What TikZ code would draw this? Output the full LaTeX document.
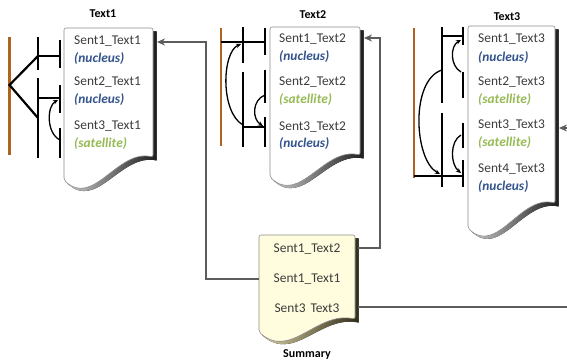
\documentclass[tikz,border=0pt]{standalone}
\usepackage{fontspec}
\setmainfont{Carlito}
\usetikzlibrary{arrows.meta}

\definecolor{bark}{RGB}{176,98,32}
\definecolor{nucblue}{RGB}{52,84,140}
\definecolor{satgreen}{RGB}{150,186,84}
\definecolor{bodygray}{RGB}{60,60,60}
\definecolor{conngray}{RGB}{92,92,92}
\definecolor{cream}{RGB}{255,253,222}
\definecolor{khakidark}{RGB}{50,46,26}
\definecolor{khakilight}{RGB}{214,204,160}
\colorlet{shadedark}{black!88}
\colorlet{shadelight}{black!22}

\tikzset{
  treeline/.style={line width=2.2pt, black},
  rootline/.style={line width=2.2pt, bark},
  relarrow/.style={line width=1.3pt, black, -{Stealth[length=5pt,width=4.5pt]}},
  conn/.style={line width=2pt, conngray, -{Stealth[length=8pt,width=7pt]}},
  connplain/.style={line width=2pt, conngray},
  sent/.style={anchor=mid west, inner sep=0pt, text=bodygray, font=\fontsize{13.4}{16}\selectfont},
  nuc/.style={anchor=mid west, inner sep=0pt, text=nucblue, font=\fontsize{13.4}{16}\selectfont\bfseries\itshape},
  sat/.style={anchor=mid west, inner sep=0pt, text=satgreen, font=\fontsize{13.4}{16}\selectfont\bfseries\itshape},
  sumtext/.style={inner sep=0pt, text=bodygray, font=\fontsize{13.4}{16}\selectfont},
  title/.style={inner sep=0pt, font=\fontsize{12}{14}\selectfont\bfseries},
}

% A page with a wavy bottom edge and a drop shadow:
% #1 left, #2 top, #3 right, #4 bottom at left, #5 bottom at right,
% #6 fill, #7 light shadow colour, #8 dark shadow colour
\newcommand\docpage[8]{%
  \fill[shift={(3.5,3.5)}, left color=#7, right color=#8]
    (#1,#2) -- (#3,#2) -- (#3,#5)
    .. controls ({#3-0.4*(#3-#1)},{#5-8}) and ({#1+0.33*(#3-#1)},{#4+28}) .. (#1,#4) -- cycle;
  \draw[draw=black!45, line width=0.6pt, fill=#6, rounded corners=2pt]
    (#1,#2) -- (#3,#2) -- (#3,#5)
    .. controls ({#3-0.4*(#3-#1)},{#5-8}) and ({#1+0.33*(#3-#1)},{#4+28}) .. (#1,#4) -- cycle;
}

\begin{document}
\begin{tikzpicture}[x=1pt, y=-1pt]
\useasboundingbox (0,0) rectangle (567,363);

% ---- pages ----
\docpage{64}{28}{153}{180}{157}{white}{shadelight}{shadedark}
\docpage{270}{27}{360}{177}{155}{white}{shadelight}{shadedark}
\docpage{468}{26}{555}{228}{203}{white}{shadelight}{shadedark}
\docpage{259}{235}{355}{332}{319}{cream}{khakilight}{khakidark}

% ---- titles ----
\node[title] (title1) at (103,14) {Text1};
\node[title] (title2) at (313,15) {Text2};
\node[title] (title3) at (507,17) {Text3};
\node[title] (titlesum) at (307,355) {Summary};

% ---- sentences of Text1 ----
\node[sent] (a1) at (74,42)  {Sent1\_Text1};
\node[nuc]  (a1r) at (74,60) {(nucleus)};
\node[sent] (a2) at (74,83)  {Sent2\_Text1};
\node[nuc]  (a2r) at (74,101) {(nucleus)};
\node[sent] (a3) at (74,127) {Sent3\_Text1};
\node[sat]  (a3r) at (74,145) {(satellite)};

% ---- sentences of Text2 ----
\node[sent] (b1) at (279,40)  {Sent1\_Text2};
\node[nuc]  (b1r) at (279,58) {(nucleus)};
\node[sent] (b2) at (279,83)  {Sent2\_Text2};
\node[sat]  (b2r) at (279,101) {(satellite)};
\node[sent] (b3) at (279,128) {Sent3\_Text2};
\node[nuc]  (b3r) at (279,145) {(nucleus)};

% ---- sentences of Text3 ----
\node[sent] (c1) at (478,40)  {Sent1\_Text3};
\node[nuc]  (c1r) at (478,59) {(nucleus)};
\node[sent] (c2) at (478,83)  {Sent2\_Text3};
\node[sat]  (c2r) at (478,101) {(satellite)};
\node[sent] (c3) at (478,126) {Sent3\_Text3};
\node[sat]  (c3r) at (478,144) {(satellite)};
\node[sent] (c4) at (478,170) {Sent4\_Text3};
\node[nuc]  (c4r) at (478,188) {(nucleus)};

% ---- summary ----
\node[sumtext] (s1) at (307,249) {Sent1\_Text2};
\node[sumtext] (s2) at (307,279) {Sent1\_Text1};
\node[sumtext] (s3) at (307,308) {Sent3\hspace{5pt}Text3};

% ---- discourse tree of Text1 ----
\draw[rootline] (9.5,37) -- (9.5,155);
\draw[treeline] (38,37) -- (38,70) (38,78) -- (38,158);
\draw[treeline] (60,40) -- (60,68) (60,85) -- (60,113) (60,128) -- (60,158);
\draw[treeline] (38,56) -- (60,56) (38,98) -- (60,98);
\draw[treeline] (38,56) -- (9.5,85) -- (38,118);
\draw[relarrow] (60,140) .. controls (46,133) and (47,106) .. (58,100);

% ---- discourse tree of Text2 ----
\draw[rootline] (221,28) -- (221,146);
\draw[treeline] (243,27) -- (243,63) (243,72) -- (243,147);
\draw[treeline] (265,28) -- (265,55) (265,70) -- (265,103) (265,117) -- (265,147);
\draw[treeline] (221,42) -- (265,42) (243,127) -- (265,127);
\draw[relarrow] (243,125) .. controls (220,112) and (222,52) .. (241,44);
\draw[relarrow] (265,95) .. controls (252,100) and (252,119) .. (263,126);

% ---- discourse tree of Text3 ----
\draw[rootline] (414,28) -- (414,178);
\draw[treeline] (442,27) -- (442,103) (442,113) -- (442,187);
\draw[treeline] (463,27) -- (463,45) (463,72) -- (463,98) (463,123) -- (463,148) (463,160) -- (463,187);
\draw[treeline] (442,36) -- (463,36) (414,176) -- (463,176);
\draw[relarrow] (442,70) .. controls (410,80) and (414,160) .. (440,174);
\draw[relarrow] (461,72) .. controls (450,66) and (450,46) .. (461,40);
\draw[relarrow] (461,135) .. controls (450,141) and (450,164) .. (461,173);

% ---- links from the summary back to the source texts ----
\coordinate (t1in) at (157,42);
\coordinate (t2in) at (364,38);
\coordinate (t3in) at (559,128);
\coordinate (t3far) at (567,128);
\coordinate (sumL) at (259,279);
\coordinate (sumR1) at (358,248);
\coordinate (sumR3) at (358,307);
\coordinate (farR) at (567,307);

\draw[conn] (sumL) -- ++(-53,0) |- (t1in);
\draw[conn] (sumR1) -- ++(22,0) |- (t2in);
\draw[connplain] (sumR3) -- (farR);
\draw[conn] (t3far) -- (t3in);
\end{tikzpicture}
\end{document}
